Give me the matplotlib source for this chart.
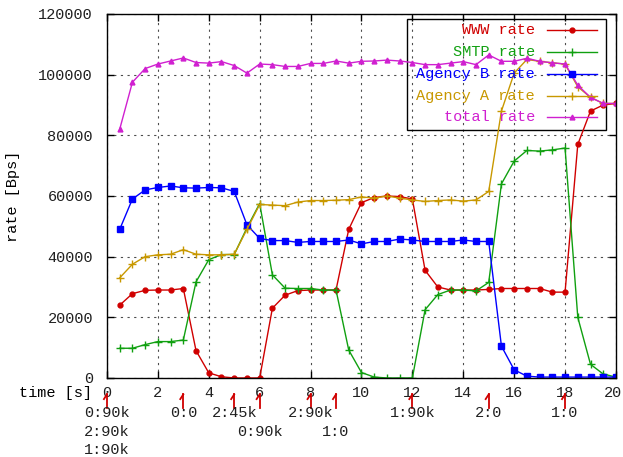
#!/usr/bin/env python3
"""Per-class traffic rate over time, drawn in a gnuplot-like style."""

import matplotlib
matplotlib.use("Agg")
import matplotlib.pyplot as plt
from matplotlib.patches import Rectangle
from matplotlib.transforms import ScaledTranslation, blended_transform_factory

time_s = [0.5, 1.0, 1.5, 2.0, 2.5, 3.0, 3.5, 4.0, 4.5, 5.0,
          5.5, 6.0, 6.5, 7.0, 7.5, 8.0, 8.5, 9.0, 9.5, 10.0,
          10.5, 11.0, 11.5, 12.0, 12.5, 13.0, 13.5, 14.0, 14.5, 15.0,
          15.5, 16.0, 16.5, 17.0, 17.5, 18.0, 18.5, 19.0, 19.5, 20.0]

www_rate = [24000, 27800, 28900, 29000, 29000, 29500, 9000, 1700, 400, 0,
            0, 0, 23000, 27300, 28800, 29000, 29000, 29000, 49000, 57800,
            59500, 60000, 59800, 59000, 35500, 30000, 29000, 29000, 29000, 29200,
            29500, 29500, 29500, 29500, 28300, 28300, 77000, 88000, 90000, 90500]

smtp_rate = [9800, 9800, 11000, 12000, 12000, 12500, 31700, 39000, 40700, 40700,
             49500, 57500, 34000, 29600, 29500, 29500, 29000, 29000, 9200, 1800,
             300, 0, 0, 0, 22500, 27500, 29000, 29000, 28700, 31500,
             64000, 71500, 75000, 74800, 75200, 75800, 20000, 4500, 1300, 300]

agency_b_rate = [49000, 59000, 62000, 62800, 63300, 62700, 62600, 62800, 62700, 61500,
                 50500, 46000, 45300, 45300, 44700, 45000, 45000, 45000, 45500, 44200,
                 45000, 45000, 45800, 45500, 45000, 45000, 45000, 45500, 45000, 45000,
                 10500, 2700, 600, 300, 300, 300, 300, 300, 300, 300]

agency_a_rate = [33000, 37500, 40000, 40600, 40800, 42300, 40800, 40600, 40600, 40800,
                 49000, 57200, 57000, 56800, 58000, 58500, 58500, 58600, 58800, 59700,
                 59300, 60000, 59300, 58700, 58200, 58500, 58700, 58300, 58700, 61500,
                 88000, 100500, 105000, 104400, 103900, 103500, 96000, 92500, 90500, 90500]

total_rate = [82000, 97500, 102000, 103500, 104500, 105500, 104000, 103800, 104300, 103000,
              100500, 103500, 103300, 102700, 102700, 103700, 103700, 104500, 103800, 104400,
              104500, 104800, 104500, 104000, 103300, 103300, 103800, 104300, 103300, 106500,
              104400, 104400, 105400, 104400, 103900, 103500, 96500, 92500, 90500, 90500]

series_labels = ["WWW rate", "SMTP rate", "Agency B rate", "Agency A rate", "total rate"]

# events marked under the time axis: time, text, text row
event_times = [0, 0, 0, 3, 5, 6, 8, 9, 12, 15, 18]
event_labels = ["0:90k", "2:90k", "1:90k", "0:0", "2:45k", "0:90k",
                "2:90k", "1:0", "1:90k", "2:0", "1:0"]
event_rows = [0, 1, 2, 0, 0, 1, 0, 1, 0, 0, 0]

x_ticks = [0, 2, 4, 6, 8, 10, 12, 14, 16, 18, 20]
y_ticks = [0, 20000, 40000, 60000, 80000, 100000, 120000]


def main():
    plt.rcParams["font.family"] = ["Liberation Mono", "DejaVu Sans Mono"]
    plt.rcParams["font.size"] = 11
    plt.rcParams["text.color"] = "#202020"
    plt.rcParams["xtick.labelcolor"] = "#202020"
    plt.rcParams["ytick.labelcolor"] = "#202020"

    fig = plt.figure(figsize=(6.23, 4.57), dpi=100)
    ax = fig.add_axes([0.1717, 0.1729, 0.817, 0.7965])

    colors = ["#d00000", "#10a010", "#0000ff", "#c89800", "#d020d0"]
    markers = ["o", "+", "s", "+", "^"]
    sizes = [3.5, 6, 4.5, 6, 3.5]
    values = [www_rate, smtp_rate, agency_b_rate, agency_a_rate, total_rate]

    for vals, color, marker, ms in zip(values, colors, markers, sizes):
        ax.plot(time_s, vals, color=color, marker=marker, markersize=ms,
                markeredgewidth=1.0, linewidth=1.0)

    ax.set_xlim(0, 20)
    ax.set_ylim(0, 120000)
    ax.set_xticks(x_ticks)
    ax.set_yticks(y_ticks)
    ax.grid(True, color="black", linestyle=(0, (2, 4)), linewidth=0.8, alpha=0.7)
    ax.tick_params(direction="in", top=True, right=True, length=5, width=1)
    ax.tick_params(axis="y", pad=10)
    ax.tick_params(axis="x", pad=6)
    for spine in ax.spines.values():
        spine.set_linewidth(1.0)

    # keep the last x label inside the canvas
    last = ax.get_xticklabels()[-1]
    last.set_transform(last.get_transform() + ScaledTranslation(-2 / 72, 0, fig.dpi_scale_trans))

    ax.set_ylabel("rate [Bps]")
    ax.yaxis.set_label_coords(-0.171, 0.5)
    ax.set_xlabel("time [s]")
    ax.xaxis.set_label_coords(-0.102, -0.041)
    ax.xaxis.label.set_va("center")

    # hand-drawn legend, gnuplot style: coloured text on the left, sample on the right
    ax.add_patch(Rectangle((0.589, 0.681), 0.391, 0.305, transform=ax.transAxes,
                           fill=False, edgecolor="black", linewidth=1.0))
    for i, (label, color, marker, ms) in enumerate(zip(series_labels, colors, markers, sizes)):
        y = 0.956 - i * 0.06
        ax.text(0.841, y, label, color=color, ha="right", va="center",
                transform=ax.transAxes)
        ax.plot([0.864, 0.963], [y, y], color=color, linewidth=1.0,
                transform=ax.transAxes)
        ax.plot([0.913], [y], color=color, marker=marker, markersize=ms,
                markeredgewidth=1.0, transform=ax.transAxes)

    # event markers below the axis
    trans = blended_transform_factory(ax.transData, ax.transAxes)
    for t in sorted(set(event_times)):
        ax.plot([t, t], [-0.045, -0.082], color="#d00000", linewidth=1.3,
                transform=trans, clip_on=False)
        ax.plot([t, t - 0.12], [-0.045, -0.058], color="#d00000", linewidth=1.3,
                transform=trans, clip_on=False)
    row_y = [-0.096, -0.148, -0.198]
    for t, label, row in zip(event_times, event_labels, event_rows):
        ax.text(t, row_y[row], label, ha="center", va="center",
                transform=trans, clip_on=False)

    fig.savefig("out.png", dpi=100)
    plt.close(fig)


if __name__ == "__main__":
    main()
